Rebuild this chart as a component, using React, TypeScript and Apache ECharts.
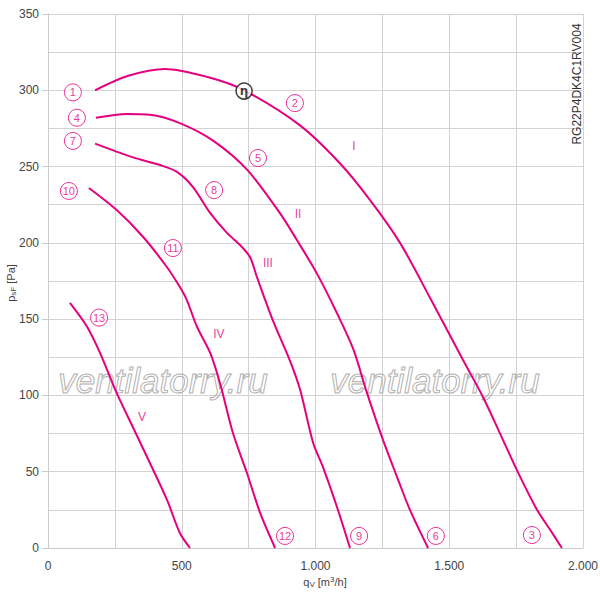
import React, { useEffect, useRef } from "react";
import * as echarts from "echarts";

// Characteristic curves: [q_V m³/h, p_sF Pa]
const curveI: number[][] = [
  [176, 300], [300, 309.5], [437, 314], [600, 308.5], [733, 300], [942, 277], [1092, 252],
  [1204, 228], [1316, 200], [1428, 164], [1552, 123], [1626, 99], [1690, 75],
  [1753, 51], [1828, 25], [1877, 12], [1921, 0],
];
const curveII: number[][] = [
  [179, 282], [295, 284.5], [381, 284], [493, 278.5], [617, 267], [744, 248],
  [867, 219.5], [930, 202], [1005, 180], [1080, 154], [1142, 130], [1190, 103], [1252, 71],
  [1305, 46.5], [1353, 25], [1421, 0],
];
const curveIII: number[][] = [
  [176, 265], [318, 256], [419, 251], [482, 246.5], [542, 236.6], [606, 219.6], [669, 206.5],
  [718, 198.6], [755, 190.7], [781, 177.6], [841, 149], [904, 123], [942, 104], [991, 69],
  [1028, 53], [1080, 27], [1129, 0],
];
const curveIV: number[][] = [
  [153, 236], [257, 221.5], [355, 204], [445, 184], [493, 171], [519, 162.5], [557, 145],
  [606, 128], [643, 108], [692, 75], [744, 49], [793, 23], [849, 0],
];
const curveV: number[][] = [
  [82, 160.6], [146, 145], [194, 128], [257, 101.5], [318, 79], [381, 55.7], [445, 31.5],
  [493, 9.8], [531, 0],
];

// Circled point labels [q, p, text]
const circleLabels: [number, number, string][] = [
  [93, 298.6, "1"], [923, 291.6, "2"], [1809, 8.5, "3"],
  [108, 282, "4"], [785, 255.6, "5"], [1450, 7.9, "6"],
  [93, 266.8, "7"], [621, 234.6, "8"], [1163, 7.9, "9"],
  [78, 234, "10"], [467, 196.6, "11"], [886, 7.9, "12"],
  [191, 151, "13"],
];
const etaPoint: [number, number, string][] = [[733, 299.5, "η"]];
const romanLabels: [number, number, string][] = [
  [1144, 263.5, "I"], [935, 219, "II"], [822, 186.8, "III"], [639, 140, "IV"], [351, 85.9, "V"],
];

const X_MIN = 0, X_MAX = 2000, X_INT = 500;
const Y_MIN = 0, Y_MAX = 350, Y_INT = 50;

const PINK = "#e6007e";
const FONT = "Liberation Sans, Arial, sans-serif";

function fmtX(v: number): string {
  if (v >= 1000) return `${Math.floor(v / 1000)}.${String(v % 1000).padStart(3, "0")}`;
  return String(v);
}

const richName = {
  a: { fontSize: 11, fill: "#444", fontFamily: FONT },
  b: { fontSize: 8, fill: "#444", fontFamily: FONT, padding: [5, 0, 0, 0] },
  c: { fontSize: 8, fill: "#444", fontFamily: FONT, padding: [0, 0, 5, 0] },
};

export default function App() {
  const ref = useRef<HTMLDivElement>(null);
  useEffect(() => {
    document.body.style.margin = "0";
    if (!ref.current) return;
    const chart = echarts.init(ref.current, null, { renderer: "svg" });
    const lineSeries = [curveI, curveII, curveIII, curveIV, curveV].map((d) => ({
      type: "line",
      data: d,
      smooth: 0.3,
      showSymbol: false,
      lineStyle: { color: PINK, width: 2 },
      z: 3,
      silent: true,
    }));
    const wm = (x: number) => ({
      type: "text",
      x,
      y: 380,
      z: 1,
      silent: true,
      style: {
        text: "ventilatorry.ru",
        font: `italic 35px ${FONT}`,
        fill: "rgba(255,255,255,0)",
        stroke: "#b0b0b0",
        lineWidth: 1,
        textAlign: "center",
        textVerticalAlign: "middle",
      },
    });
    chart.setOption({
      animation: false,
      textStyle: { fontFamily: FONT },
      grid: { left: 48, right: 17, top: 14, bottom: 51, containLabel: false, outerBoundsMode: "none" },
      xAxis: {
        type: "value",
        min: X_MIN,
        max: X_MAX,
        interval: X_INT,
        axisLine: { show: true, lineStyle: { color: "#cccccc" } },
        axisTick: { show: false },
        axisLabel: { formatter: fmtX, color: "#444", fontSize: 12, margin: 12, fontFamily: FONT },
        splitLine: { show: true, lineStyle: { color: "#d2d2d2", width: 1 } },
        minorTick: { show: false, splitNumber: 2 },
        minorSplitLine: { show: true, lineStyle: { color: "#d2d2d2", width: 1 } },
      },
      yAxis: {
        type: "value",
        min: Y_MIN,
        max: Y_MAX,
        interval: Y_INT,
        axisLine: { show: true, lineStyle: { color: "#cccccc" } },
        axisTick: { show: true, length: 6, lineStyle: { color: "#cccccc" } },
        axisLabel: { color: "#444", fontSize: 12, margin: 9, fontFamily: FONT },
        splitLine: { show: true, lineStyle: { color: "#d2d2d2", width: 1 } },
        minorTick: { show: false, splitNumber: 2 },
        minorSplitLine: { show: true, lineStyle: { color: "#d2d2d2", width: 1 } },
      },
      graphic: [
        wm(163),
        wm(435),
        {
          type: "text",
          x: 577,
          y: 84,
          rotation: Math.PI / 2,
          z: 5,
          style: {
            text: "RG22P4DK4C1RV004",
            font: `12px ${FONT}`,
            fill: "#333",
            textAlign: "center",
            textVerticalAlign: "middle",
          },
        },
        {
          type: "text",
          x: 11,
          y: 283,
          rotation: Math.PI / 2,
          z: 5,
          style: {
            text: "{a|p}{b|sF}{a| [Pa]}",
            rich: richName,
            align: "center",
            verticalAlign: "middle",
          },
        },
        {
          type: "text",
          x: 325,
          y: 582,
          z: 5,
          style: {
            text: "{a|q}{b|V}{a| [m}{c|3}{a|/h]}",
            rich: richName,
            align: "center",
            verticalAlign: "middle",
          },
        },
      ],
      series: [
        ...lineSeries,
        {
          type: "scatter",
          data: circleLabels.map((c) => ({ value: [c[0], c[1]], name: c[2] })),
          symbol: "circle",
          symbolSize: 17,
          itemStyle: { color: "#ffffff", borderColor: PINK, borderWidth: 1 },
          label: {
            show: true,
            position: "inside",
            formatter: (p: any) => p.name,
            color: PINK,
            fontSize: 11,
            fontFamily: FONT,
          },
          z: 4,
          silent: true,
        },
        {
          type: "scatter",
          data: etaPoint.map((c) => ({ value: [c[0], c[1]], name: c[2] })),
          symbol: "circle",
          symbolSize: 16,
          itemStyle: { color: "#ffffff", borderColor: "#111", borderWidth: 1.5 },
          label: {
            show: true,
            position: "inside",
            formatter: (p: any) => p.name,
            color: "#111",
            fontSize: 12,
            fontWeight: "bold",
            fontFamily: "DejaVu Sans, sans-serif",
          },
          z: 5,
          silent: true,
        },
        {
          type: "scatter",
          data: romanLabels.map((c) => ({ value: [c[0], c[1]], name: c[2] })),
          symbol: "circle",
          symbolSize: 1,
          itemStyle: { color: "rgba(0,0,0,0)" },
          label: {
            show: true,
            position: "inside",
            formatter: (p: any) => p.name,
            color: PINK,
            fontSize: 12,
            fontFamily: FONT,
          },
          z: 4,
          silent: true,
        },
      ],
    });
    return () => chart.dispose();
  }, []);
  return <div ref={ref} style={{ width: 600, height: 599 }} />;
}
